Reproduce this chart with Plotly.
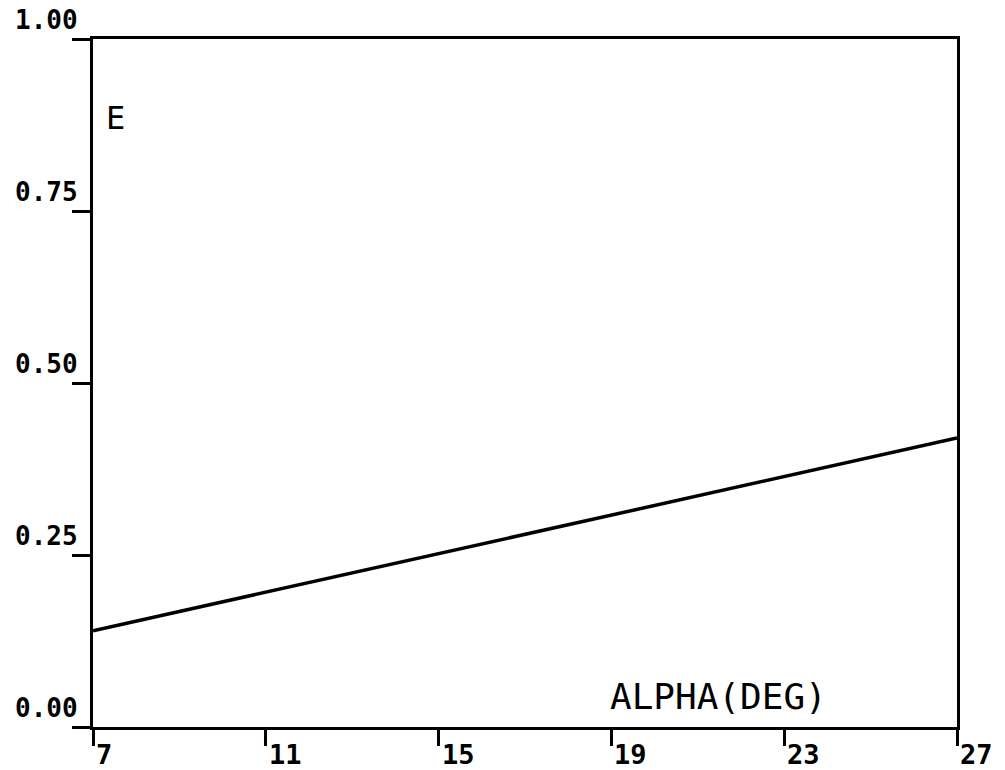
import plotly.graph_objects as go

alpha_deg = [7, 27]
e_values = [0.14, 0.42]

x_ticks = [7, 11, 15, 19, 23, 27]
x_tick_labels = ["7", "11", "15", "19", "23", "27"]
y_ticks = [0.0, 0.25, 0.5, 0.75, 1.0]
y_tick_labels = ["0.00", "0.25", "0.50", "0.75", "1.00"]

FONT = "DejaVu Sans Mono"

fig = go.Figure()
fig.add_trace(go.Scatter(x=alpha_deg, y=e_values, mode="lines",
                         line=dict(color="black", width=3.5), showlegend=False,
                         hoverinfo="skip"))

annotations = []
for v, t in zip(x_ticks, x_tick_labels):
    annotations.append(dict(x=v, y=0, xref="x", yref="paper", text=t, showarrow=False,
                            xanchor="left", yanchor="top", xshift=1, yshift=-10,
                            font=dict(family=FONT, size=27, color="black", weight="bold")))
for v, t in zip(y_ticks, y_tick_labels):
    annotations.append(dict(x=0, y=v, xref="paper", yref="y", text=t, showarrow=False,
                            xanchor="right", yanchor="bottom", xshift=-13, yshift=2,
                            font=dict(family=FONT, size=26, color="black", weight="bold")))
annotations.append(dict(x=0.013, y=0.885, xref="paper", yref="paper", text="E", showarrow=False,
                        xanchor="left", yanchor="middle",
                        font=dict(family=FONT, size=32, color="black")))
annotations.append(dict(x=0.852, y=0.045, xref="paper", yref="paper", text="ALPHA(DEG)",
                        showarrow=False, xanchor="right", yanchor="middle",
                        font=dict(family=FONT, size=36, color="black")))

fig.update_layout(
    width=1005, height=770,
    margin=dict(l=93, r=48, t=39, b=43),
    paper_bgcolor="white", plot_bgcolor="white",
    annotations=annotations,
    xaxis=dict(range=[7, 27], tickvals=x_ticks, showticklabels=False, ticks="outside",
               ticklen=16, tickwidth=2.5, tickcolor="black", showgrid=False, zeroline=False,
               showline=True, linecolor="black", linewidth=3, mirror=True),
    yaxis=dict(range=[0, 1], tickvals=y_ticks, showticklabels=False, ticks="outside",
               ticklen=18, tickwidth=3, tickcolor="black", showgrid=False, zeroline=False,
               showline=True, linecolor="black", linewidth=3, mirror=True),
)

fig.write_html("out.html")
